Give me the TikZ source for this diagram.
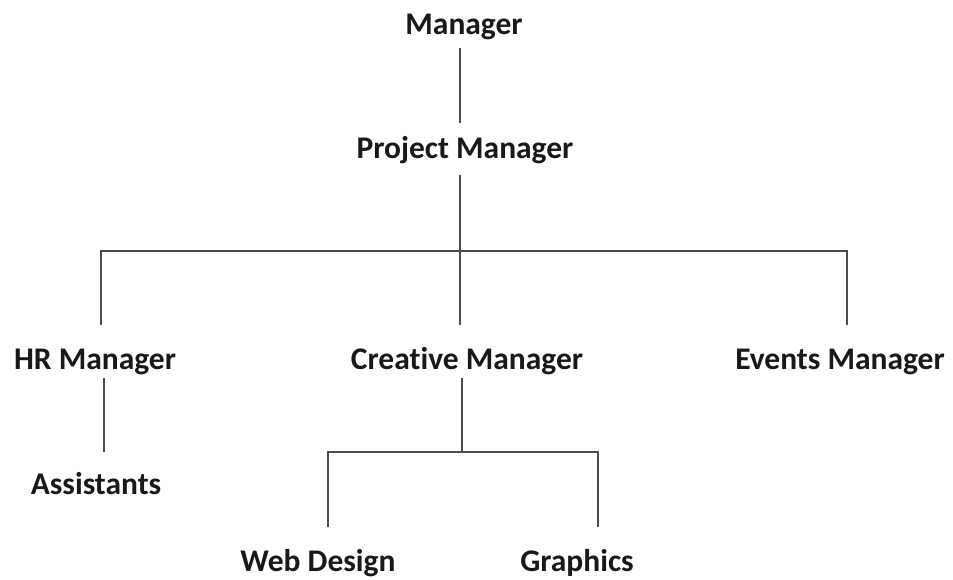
\documentclass[tikz,border=0pt]{standalone}
\usepackage{fontspec}
\setmainfont[Ligatures=NoCommon]{Carlito}
\begin{document}
\begin{tikzpicture}[x=1pt,y=-1pt,
  lbl/.style={font=\bfseries\fontsize{31.5}{34}\selectfont, text=black!90, inner sep=0pt, anchor=base, text height=22pt, text depth=7pt},
  conn/.style={draw=black!70, line width=1.4pt}]
\useasboundingbox[fill=white] (0,0) rectangle (953,579);
\node[lbl] (mgr) at (464,34) {Manager};
\node[lbl] (pm) at (465,158) {Project Manager};
\node[lbl] (hr) at (95,369) {HR Manager};
\node[lbl] (cm) at (467,369) {Creative Manager};
\node[lbl] (ev) at (840,369) {Events Manager};
\node[lbl] (as) at (96,494) {Assistants};
\node[lbl] (wd) at (318,571) {Web Design};
\node[lbl] (gr) at (577,571) {Graphics};
\coordinate (b1) at (460,251);
\coordinate (b2) at (462,452);
\draw[conn] ([shift={(-4,7)}]mgr.south) -- ([shift={(-5,-13)}]pm.north);
\draw[conn] ([shift={(-5,10)}]pm.south) -- (b1);
\draw[conn] ([shift={(6,-22)}]hr.north) |- (b1) -| ([shift={(7,-22)}]ev.north);
\draw[conn] (b1) -- ([shift={(-7,-22)}]cm.north);
\draw[conn] ([shift={(-5,2)}]cm.south) -- (b2);
\draw[conn] ([shift={(10,-22)}]wd.north) |- (b2) -| ([shift={(21,-22)}]gr.north);
\draw[conn] ([shift={(9,2)}]hr.south) -- ([shift={(8,-20)}]as.north);
\end{tikzpicture}
\end{document}
